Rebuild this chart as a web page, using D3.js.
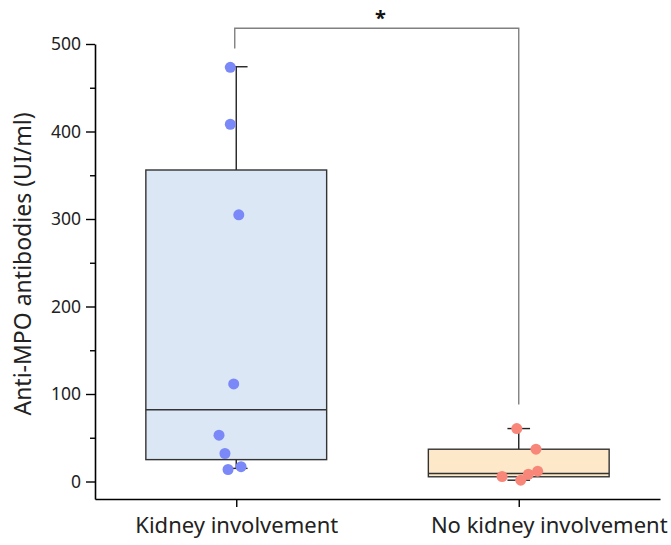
<!DOCTYPE html>
<html>
<head>
<meta charset="utf-8">
<script src="https://cdn.jsdelivr.net/npm/d3@7"></script>
<style>
  body { margin: 0; background: #fff; }
  svg { display: block; }
  svg text { font-family: "Noto Sans", "Open Sans", sans-serif; }
</style>
</head>
<body>
<div id="chart"></div>
<script>
// --- data ---
const groups = ["Kidney involvement", "No kidney involvement"];
const q1 = [25, 5.4];
const median = [82, 9.1];
const q3 = [356, 36.9];
const whiskerLow = [15, 1.5];
const whiskerHigh = [474, 60.5];
const kidneyValues = [473.4, 408.3, 304.8, 111.5, 52.9, 32, 13.7, 17];
const kidneyJitter = [-0.021, -0.021, 0.009, -0.009, -0.061, -0.04, -0.029, 0.017];
const noKidneyValues = [60.5, 36.9, 5.7, 1.5, 8.3, 11.8];
const noKidneyJitter = [-0.007, 0.061, -0.059, 0.007, 0.034, 0.067];
const yTicks = [0, 100, 200, 300, 400, 500];
const yMinorTicks = [50, 150, 250, 350, 450];

const boxFill = ["#dbe7f5", "#fde9c9"];
const dotFill = ["#7b88f8", "#f8877a"];

const width = 671, height = 545;
const margin = { top: 44, right: 11, bottom: 46, left: 95 };

const svg = d3.select("#chart").append("svg")
  .attr("width", width)
  .attr("height", height);

const x = d3.scaleLinear()
  .domain([0.5, 2.5])
  .range([margin.left, width - margin.right]);

const y = d3.scaleLinear()
  .domain([-20, 500])
  .range([height - margin.bottom, margin.top]);

// axes
const yAxis = svg.append("g")
  .attr("transform", `translate(${margin.left},0)`)
  .call(d3.axisLeft(y).tickValues(yTicks).tickSize(9).tickPadding(5).tickSizeOuter(0))
  .attr("font-family", null);
yAxis.select(".domain").attr("stroke-width", 1.6);
yAxis.selectAll(".tick line").attr("stroke-width", 1.4);
yAxis.selectAll("text").attr("font-size", 17.5).attr("fill", "#222");

svg.append("g")
  .attr("transform", `translate(${margin.left},0)`)
  .call(d3.axisLeft(y).tickValues(yMinorTicks).tickSize(5).tickFormat("").tickSizeOuter(0))
  .call(g => g.select(".domain").remove())
  .selectAll(".tick line").attr("stroke-width", 1.4);

const xAxis = svg.append("g")
  .attr("transform", `translate(0,${height - margin.bottom})`)
  .call(d3.axisBottom(x).tickValues([1, 2]).tickFormat((d, i) => groups[i])
    .tickSize(8).tickPadding(10).tickSizeOuter(0))
  .attr("font-family", null);
xAxis.select(".domain").attr("stroke-width", 1.6);
xAxis.selectAll(".tick line").attr("stroke-width", 1.4);
xAxis.selectAll("text").attr("font-size", 22).attr("fill", "#222");
// the right label sits pushed against the right edge in the original
xAxis.selectAll(".tick text").filter((d, i) => i === 1).attr("dx", 30);

// y label
svg.append("text")
  .attr("transform", `translate(31,264) rotate(-90)`)
  .attr("text-anchor", "middle")
  .attr("font-size", 23)
  .attr("fill", "#222")
  .text("Anti-MPO antibodies (UI/ml)");

// boxes
const boxW = 0.64, capW = 0.08;
groups.forEach((g, i) => {
  const cx = i + 1;
  const gg = svg.append("g");
  // whiskers
  gg.append("line")
    .attr("x1", x(cx)).attr("x2", x(cx))
    .attr("y1", y(q3[i])).attr("y2", y(whiskerHigh[i]))
    .attr("stroke", "#222").attr("stroke-width", 1.4);
  gg.append("line")
    .attr("x1", x(cx)).attr("x2", x(cx))
    .attr("y1", y(q1[i])).attr("y2", y(whiskerLow[i]))
    .attr("stroke", "#222").attr("stroke-width", 1.4);
  [whiskerHigh[i], whiskerLow[i]].forEach(v => {
    gg.append("line")
      .attr("x1", x(cx - capW / 2)).attr("x2", x(cx + capW / 2))
      .attr("y1", y(v)).attr("y2", y(v))
      .attr("stroke", "#222").attr("stroke-width", 1.4);
  });
  gg.append("rect")
    .attr("x", x(cx - boxW / 2))
    .attr("width", x(cx + boxW / 2) - x(cx - boxW / 2))
    .attr("y", y(q3[i]))
    .attr("height", y(q1[i]) - y(q3[i]))
    .attr("fill", boxFill[i])
    .attr("stroke", "#333").attr("stroke-width", 1.4);
  gg.append("line")
    .attr("x1", x(cx - boxW / 2)).attr("x2", x(cx + boxW / 2))
    .attr("y1", y(median[i])).attr("y2", y(median[i]))
    .attr("stroke", "#333").attr("stroke-width", 1.4);
});

// points
const pts = [
  ...kidneyValues.map((v, j) => ({ g: 0, v, jit: kidneyJitter[j] })),
  ...noKidneyValues.map((v, j) => ({ g: 1, v, jit: noKidneyJitter[j] }))
];
svg.append("g").selectAll("circle")
  .data(pts)
  .join("circle")
    .attr("cx", d => x(d.g + 1 + d.jit))
    .attr("cy", d => y(d.v))
    .attr("r", 5.5)
    .attr("fill", d => dotFill[d.g]);

// significance bracket
const bracketTop = 518, leftEnd = 495, rightEnd = 88;
svg.append("path")
  .attr("d", d3.line()([
    [x(1) - 1.5, y(leftEnd)], [x(1) - 1.5, y(bracketTop)],
    [x(2), y(bracketTop)], [x(2), y(rightEnd)]
  ]))
  .attr("fill", "none")
  .attr("stroke", "#808080")
  .attr("stroke-width", 1.4);

svg.append("text")
  .attr("x", (x(1) + x(2)) / 2 + 3)
  .attr("y", y(bracketTop) - 3)
  .attr("text-anchor", "middle")
  .attr("font-size", 20)
  .attr("font-weight", "bold")
  .attr("fill", "#111")
  .text("*");
</script>
</body>
</html>
